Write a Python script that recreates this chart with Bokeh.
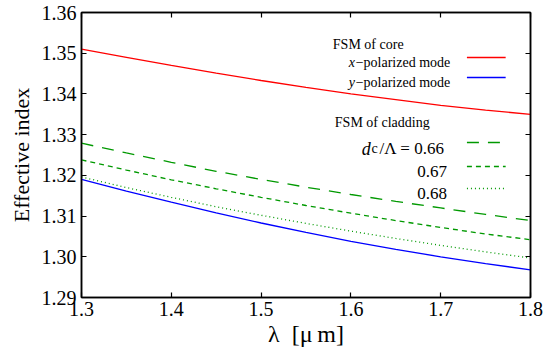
from bokeh.plotting import figure
from bokeh.models import LinearAxis, FixedTicker, PrintfTickFormatter, CustomJSTickFormatter, Label, Range1d
from bokeh.embed import file_html
from bokeh.resources import INLINE

wavelength = [1.30, 1.35, 1.40, 1.45, 1.50, 1.55, 1.60, 1.65, 1.70, 1.75, 1.80]
core_x = [1.3510, 1.3490, 1.3470, 1.3451, 1.3433, 1.3416, 1.3400, 1.3386, 1.3372, 1.3360, 1.3350]
core_y = [1.3190, 1.3161, 1.3134, 1.3108, 1.3083, 1.3060, 1.3038, 1.3018, 1.3000, 1.2983, 1.2968]
clad_066 = [1.3279, 1.3255, 1.3232, 1.3210, 1.3190, 1.3171, 1.3153, 1.3136, 1.3120, 1.3104, 1.3089]
clad_067 = [1.3238, 1.3213, 1.3189, 1.3167, 1.3146, 1.3126, 1.3107, 1.3089, 1.3072, 1.3056, 1.3042]
clad_068 = [1.3196, 1.3170, 1.3146, 1.3123, 1.3102, 1.3082, 1.3063, 1.3045, 1.3028, 1.3012, 1.2997]
x_ticks = [1.3, 1.4, 1.5, 1.6, 1.7, 1.8]
y_ticks = [1.29, 1.30, 1.31, 1.32, 1.33, 1.34, 1.35, 1.36]

FONT = "Liberation Serif"
RED, BLUE, GREEN = "#ff0000", "#0000ff", "#009900"
X0, X1, Y0, Y1 = 1.3, 1.8, 1.29, 1.36

p = figure(width=554, height=360, output_backend="svg", toolbar_location=None,
           x_range=Range1d(X0, X1), y_range=Range1d(Y0, Y1),
           min_border_left=81, min_border_right=24, min_border_top=12, min_border_bottom=63)
p.grid.visible = False
p.outline_line_color = "black"
p.outline_line_width = 1.5
p.background_fill_color = "white"
p.border_fill_color = "white"

def style_axis(ax, ticks, fmt=None):
    ax.ticker = FixedTicker(ticks=ticks)
    ax.major_tick_in = 5
    ax.major_tick_out = 0
    ax.minor_tick_in = 0
    ax.minor_tick_out = 0
    ax.axis_line_color = "black"
    ax.axis_line_width = 1.5
    ax.major_tick_line_width = 1.2
    ax.major_label_text_color = "black"
    ax.axis_label_text_color = "black"
    if fmt is None:
        ax.formatter = CustomJSTickFormatter(code="return ''")
        ax.major_label_standoff = 0
    else:
        ax.formatter = PrintfTickFormatter(format=fmt)

xa = p.xaxis[0]
style_axis(xa, x_ticks, "%.1f")
xa.major_label_text_font = FONT
xa.major_label_text_font_size = "20px"
xa.major_label_standoff = 4
xa.axis_label = "λ\u00a0\u00a0[μ\u2009m]"
xa.axis_label_text_font = FONT
xa.axis_label_text_font_style = "normal"
xa.axis_label_text_font_size = "24px"
xa.axis_label_standoff = 2

ya = p.yaxis[0]
style_axis(ya, y_ticks, "%.2f")
ya.major_label_text_font = FONT
ya.major_label_text_font_size = "20px"
ya.major_label_standoff = 5
ya.axis_label = "Effective index"
ya.axis_label_text_font = FONT
ya.axis_label_text_font_style = "normal"
ya.axis_label_text_font_size = "22px"
ya.axis_label_standoff = 5

top = LinearAxis()
style_axis(top, x_ticks)
p.add_layout(top, "above")
right = LinearAxis()
style_axis(right, y_ticks)
p.add_layout(right, "right")

lw = 1.3
p.line(wavelength, core_x, line_color=RED, line_width=lw)
p.line(wavelength, core_y, line_color=BLUE, line_width=lw)
p.line(wavelength, clad_066, line_color=GREEN, line_width=lw, line_dash="12 9")
p.line(wavelength, clad_067, line_color=GREEN, line_width=lw, line_dash="5 4")
p.line(wavelength, clad_068, line_color=GREEN, line_width=lw, line_dash="1 3")

# legend layout (pixel positions converted to data coordinates)
FL, FR, FT, FB = 81, 533, 12, 297
def dx(px):
    return X0 + (px - FL) * (X1 - X0) / (FR - FL)
def dy(py):
    return Y1 - (py - FT) * (Y1 - Y0) / (FB - FT)

def text(px, py, s, size, align="left", style=None):
    kw = dict(x=dx(px), y=dy(py), text=s, text_font=FONT, text_font_size=size,
              text_align=align, text_baseline="alphabetic", text_color="black")
    if style:
        kw["text_font_style"] = style
    p.add_layout(Label(**kw))

def sample(py, color, dash="solid"):
    p.line([dx(469), dx(508)], [dy(py), dy(py)], line_color=color, line_width=lw, line_dash=dash)

text(334, 44, "FSM of core", "14px")
text(350, 62, "x", "14px", style="italic")
text(357, 62, "\u2212polarized mode", "14px")
text(350, 82, "y", "14px", style="italic")
text(357, 82, "\u2212polarized mode", "14px")
sample(57, RED)
sample(77, BLUE)

text(336, 122, "FSM of cladding", "14px")
text(363, 148, "d", "18px", style="italic")
text(373, 148, "c", "14px")
text(381, 148, "/\u039b = 0.66", "17px")
text(449, 171, "0.67", "17px", align="right")
text(449, 193, "0.68", "17px", align="right")
sample(142, GREEN, "12 9")
sample(166, GREEN, "5 4")
sample(188, GREEN, "1 3")

open("out.html", "w").write(file_html(p, INLINE))
